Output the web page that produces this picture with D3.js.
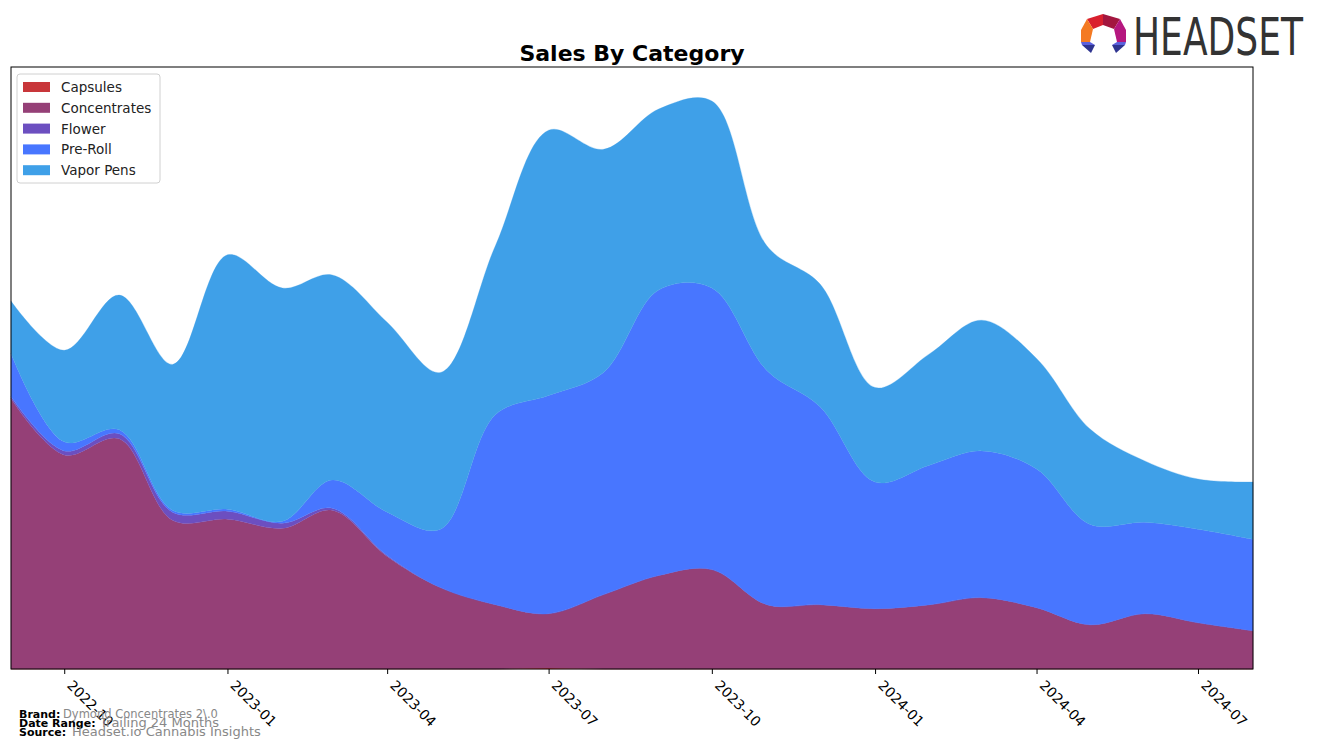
<!DOCTYPE html>
<html>
<head>
<meta charset="utf-8">
<script src="https://cdn.jsdelivr.net/npm/d3@7"></script>
<style>
  body { margin: 0; background: #fff; }
  text { font-family: "DejaVu Sans", sans-serif; }
</style>
</head>
<body>
<svg id="chart" width="1317" height="748"></svg>
<script>
// monthly data, Sep 2022 .. Aug 2024
const months = [
  '2022-09', '2022-10', '2022-11', '2022-12', '2023-01', '2023-02', '2023-03', '2023-04',
  '2023-05', '2023-06', '2023-07', '2023-08', '2023-09', '2023-10', '2023-11', '2023-12',
  '2024-01', '2024-02', '2024-03', '2024-04', '2024-05', '2024-06', '2024-07', '2024-08'
];
const capsules     = [0, 0, 0, 0, 0, 0, 0, 0, 0, 0, 1, 0, 0, 0, 0, 0, 0, 0, 0, 0, 0, 0, 0, 0];
const concentrates = [269, 213, 229, 148, 149, 140, 158, 112, 81, 64, 54, 74, 93, 99, 64, 64, 60, 64, 71, 61, 44, 55, 46, 38];
const flower       = [2, 4, 5, 8, 8, 5, 2, 1, 0, 0, 0, 0, 0, 0, 0, 0, 0, 0, 0, 0, 0, 0, 0, 0];
const preRoll      = [43, 9, 4, 2, 2, 2, 28, 43, 58, 189, 217, 221, 284, 280, 233, 197, 126, 139, 146, 138, 100, 91, 93, 91];
const vaporPens    = [52, 91, 134, 145, 253, 232, 204, 189, 156, 168, 264, 222, 180, 186, 124, 122, 94, 111, 130, 110, 95, 61, 50, 57];

const categories = ['Capsules', 'Concentrates', 'Flower', 'Pre-Roll', 'Vapor Pens'];
const colors = ['#c8363a', '#954077', '#6c4fc0', '#4876ff', '#3fa0e8'];
const tickLabels = ['2022-10', '2023-01', '2023-04', '2023-07', '2023-10', '2024-01', '2024-04', '2024-07'];

const parseMonth = d3.timeParse('%Y-%m');
const rows = months.map((m, i) => ({
  date: parseMonth(m),
  'Capsules': capsules[i],
  'Concentrates': concentrates[i],
  'Flower': flower[i],
  'Pre-Roll': preRoll[i],
  'Vapor Pens': vaporPens[i]
}));

const margin = { top: 67, right: 64, bottom: 79, left: 11 };
const width = 1317, height = 748;

const svg = d3.select('#chart');

const x = d3.scaleTime()
  .domain(d3.extent(rows, d => d.date))
  .range([margin.left, width - margin.right]);

const series = d3.stack().keys(categories)(rows);
const maxTotal = d3.max(series[series.length - 1], d => d[1]);

// smoothed peak sits a bit above the monthly max, so leave more headroom
const y = d3.scaleLinear()
  .domain([0, maxTotal * 1.06])
  .range([height - margin.bottom, margin.top]);

const area = d3.area()
  .x(d => x(d.data.date))
  .y0(d => y(d[0]))
  .y1(d => y(d[1]))
  .curve(d3.curveCatmullRom);

svg.append('g')
  .selectAll('path')
  .data(series)
  .enter()
  .append('path')
  .attr('d', area)
  .attr('fill', (d, i) => colors[i])
  .attr('stroke', (d, i) => colors[i])
  .attr('stroke-width', 0.3);

// axes frame
svg.append('rect')
  .attr('x', margin.left)
  .attr('y', margin.top)
  .attr('width', width - margin.left - margin.right)
  .attr('height', height - margin.top - margin.bottom)
  .attr('fill', 'none')
  .attr('stroke', '#000')
  .attr('stroke-width', 1);

// x axis
const xAxis = d3.axisBottom(x)
  .tickValues(tickLabels.map(parseMonth))
  .tickFormat(d3.timeFormat('%Y-%m'))
  .tickSize(5)
  .tickSizeOuter(0);

const gx = svg.append('g')
  .attr('transform', 'translate(0,' + (height - margin.bottom) + ')')
  .call(xAxis);
gx.select('.domain').remove();
gx.selectAll('line').attr('stroke', '#000');
gx.selectAll('text')
  .attr('font-size', 13.9)
  .attr('fill', '#000')
  .attr('text-anchor', 'start')
  .attr('dy', null)
  .attr('y', 0)
  .attr('transform', 'translate(9,10) rotate(45)')
  .attr('dominant-baseline', 'hanging');

// title
svg.append('text')
  .attr('x', 632)
  .attr('y', 61)
  .attr('text-anchor', 'middle')
  .attr('font-size', 22)
  .attr('font-weight', 'bold')
  .text('Sales By Category');

// legend
const legend = svg.append('g').attr('transform', 'translate(17,74)');
legend.append('rect')
  .attr('width', 143)
  .attr('height', 109)
  .attr('rx', 3)
  .attr('fill', '#fff')
  .attr('fill-opacity', 0.8)
  .attr('stroke', '#d0d0d0');
categories.forEach((c, i) => {
  legend.append('rect')
    .attr('x', 6)
    .attr('y', 8 + i * 20.8)
    .attr('width', 27)
    .attr('height', 10)
    .attr('fill', colors[i]);
  legend.append('text')
    .attr('x', 44)
    .attr('y', 18 + i * 20.8)
    .attr('font-size', 13.5)
    .attr('fill', '#222')
    .text(c);
});

// footer
const foot = [
  { label: 'Brand:', value: 'Dymond Concentrates 2\\.0', y: 718, vx: 63, vs: 11.5 },
  { label: 'Date Range:', value: 'Trailing 24 Months', y: 727, vx: 100, vs: 13 },
  { label: 'Source:', value: 'Headset.io Cannabis Insights', y: 736, vx: 72, vs: 13 }
];
foot.forEach(f => {
  svg.append('text')
    .attr('x', 19).attr('y', f.y)
    .attr('font-size', 11).attr('font-weight', 'bold')
    .text(f.label);
  svg.append('text')
    .attr('x', f.vx).attr('y', f.y)
    .attr('font-size', f.vs).attr('fill', '#888')
    .text(f.value);
});

// logo
const logo = svg.append('g').attr('transform', 'translate(1081,14)');
const pieces = [
  ['6,5 22,0 22,11 12,15', '#d9202e'],
  ['22,0 39,5 33,15 22,11', '#a3163f'],
  ['6,5 12,15 9,28 0,28 0,16', '#f47a22'],
  ['39,5 45,16 45,28 36,28 33,15', '#b5177f'],
  ['0,28 9,28 14,31 1,31', '#5b60dc'],
  ['1,31 14,31 10,39', '#2f3590'],
  ['36,28 45,28 44,31 31,31', '#5b60dc'],
  ['31,31 44,31 35,39', '#2f3590']
];
pieces.forEach(p => {
  logo.append('polygon').attr('points', p[0]).attr('fill', p[1]);
});
const brandText = svg.append('text')
  .attr('x', 0)
  .attr('y', 0)
  .attr('font-family', '"DejaVu Sans Condensed", "DejaVu Sans", sans-serif')
  .attr('font-size', 52)
  .attr('fill', '#333')
  .text('HEADSET');
const natural = brandText.node().getComputedTextLength();
brandText.attr('transform', 'translate(1133,55) scale(' + (170 / natural) + ',1)');
</script>
</body>
</html>
